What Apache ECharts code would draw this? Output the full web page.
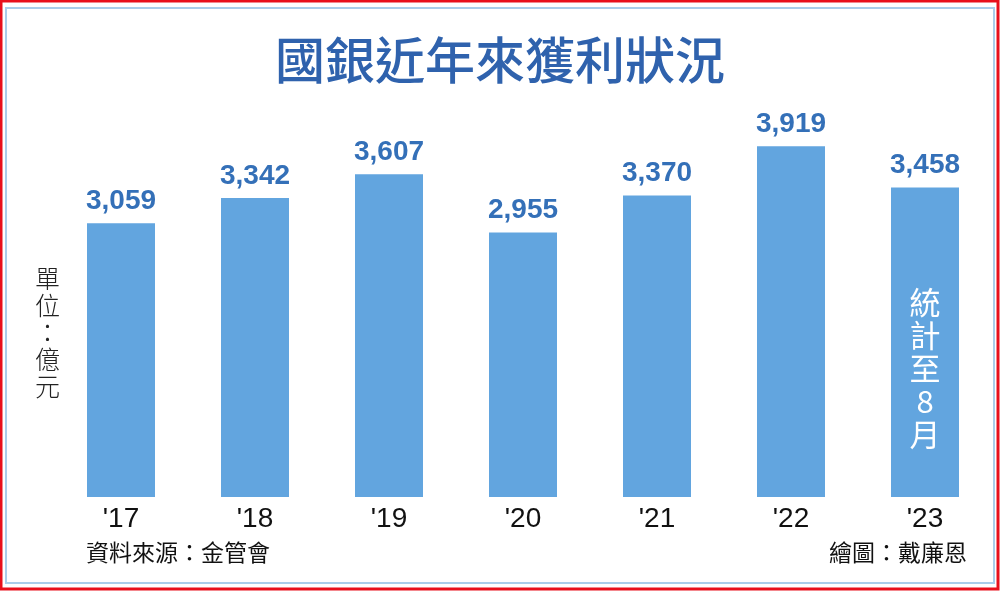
<!DOCTYPE html>
<html>
<head>
<meta charset="utf-8">
<script src="https://cdn.jsdelivr.net/npm/echarts@6/dist/echarts.min.js"></script>
<style>
  html, body { margin: 0; padding: 0; background: #fff; }
  #chart { width: 1000px; height: 591px; }
</style>
</head>
<body>
<div id="chart"></div>
<script>
  // 年度與獲利（億元）
  var years = ["'17", "'18", "'19", "'20", "'21", "'22", "'23"]
  var profits = [3059, 3342, 3607, 2955, 3370, 3919, 3458]
  var noteText = '統\n計\n至\n8\n月' // 最後一根柱子內的註記

  var chart = echarts.init(document.getElementById('chart'))
  var option = {
    backgroundColor: '#fff',
    animation: false,
    title: {
      text: '國銀近年來獲利狀況',
      left: 'center',
      top: 30,
      textStyle: {
        color: '#2f62ad',
        fontSize: 50,
        fontWeight: 500,
        fontFamily: 'Noto Sans CJK TC'
      }
    },
    grid: {
      left: 54,
      right: 8,
      top: 139,
      bottom: 94
    },
    xAxis: {
      type: 'category',
      data: years,
      axisLine: { show: false },
      axisTick: { show: false },
      axisLabel: {
        color: '#111',
        fontSize: 28,
        fontFamily: 'Liberation Sans',
        margin: 8
      }
    },
    yAxis: {
      type: 'value',
      min: 0,
      max: 4000,
      show: false
    },
    series: [
      {
        type: 'bar',
        data: profits,
        barWidth: 68,
        itemStyle: { color: '#62a5df' },
        label: {
          show: true,
          position: 'top',
          distance: 8,
          color: '#3470b8',
          fontSize: 28,
          fontWeight: 'bold',
          fontFamily: 'Liberation Sans',
          formatter: function (p) {
            return p.value.toLocaleString('en-US')
          }
        }
      },
      {
        // 透明柱，只用來放註記文字
        type: 'bar',
        data: profits.map(function (v, i) {
          return i === profits.length - 1
            ? { value: v, label: { show: true } }
            : { value: v, label: { show: false } }
        }),
        barWidth: 68,
        barGap: '-100%',
        silent: true,
        itemStyle: { color: 'rgba(0,0,0,0)' },
        label: {
          position: 'inside',
          offset: [0, 26],
          color: '#fff',
          fontSize: 31,
          lineHeight: 33,
          fontFamily: 'Noto Sans CJK TC',
          formatter: function () { return noteText }
        }
      }
    ],
    graphic: [
      { // 外框紅線
        type: 'rect',
        shape: { x: 1, y: 1, width: 997, height: 588 },
        style: { fill: 'none', stroke: '#e8101c', lineWidth: 3 }
      },
      { // 內框淺藍線
        type: 'rect',
        shape: { x: 6, y: 8, width: 988, height: 575 },
        style: { fill: 'none', stroke: '#a9cdea', lineWidth: 2 }
      },
      {
        type: 'text',
        left: 35,
        top: 265,
        style: {
          text: '單\n位\n：\n億\n元',
          fill: '#222',
          fontSize: 25,
          lineHeight: 27,
          fontFamily: 'Noto Sans CJK TC',
          fontWeight: 300,
          align: 'center'
        }
      },
      {
        type: 'text',
        left: 86,
        top: 541,
        style: {
          text: '資料來源：金管會',
          fill: '#111',
          fontSize: 23,
          fontFamily: 'Noto Sans CJK TC'
        }
      },
      {
        type: 'text',
        right: 33,
        top: 541,
        style: {
          text: '繪圖：戴廉恩',
          fill: '#111',
          fontSize: 23,
          fontFamily: 'Noto Sans CJK TC'
        }
      }
    ]
  }
  chart.setOption(option)
</script>
</body>
</html>
